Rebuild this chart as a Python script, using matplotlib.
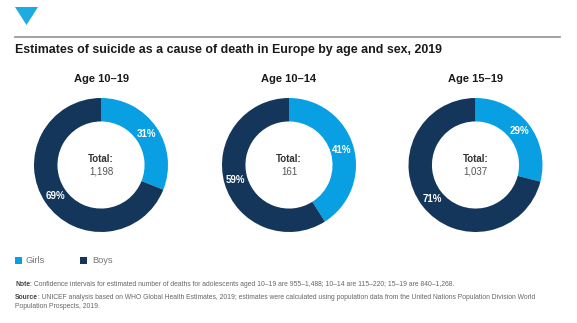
import matplotlib
matplotlib.use("Agg")
import matplotlib.pyplot as plt
from matplotlib.patches import Polygon
from matplotlib.lines import Line2D
import numpy as np

plt.rcParams['font.family'] = ['Liberation Sans', 'DejaVu Sans']

# Data
age_groups = ["Age 10\u201319", "Age 10\u201314", "Age 15\u201319"]
girls_pct = [31, 41, 29]
boys_pct = [69, 59, 71]
totals = ["1,198", "161", "1,037"]
series_names = ["Girls", "Boys"]

title = "Estimates of suicide as a cause of death in Europe by age and sex, 2019"
note_text = (": Confidence intervals for estimated number of deaths for adolescents aged 10\u201319 "
             "are 955\u20131,488; 10\u201314 are 115\u2013220; 15\u201319 are 840\u20131,268.")
source_lines = [": UNICEF analysis based on WHO Global Health Estimates, 2019; estimates were calculated "
                "using population data from the United Nations Population Division World",
                "Population Prospects, 2019."]

GIRLS = "#08A0E2"
BOYS = "#13365A"
W, H = 577, 323

fig = plt.figure(figsize=(W / 100, H / 100), dpi=100)
fig.patch.set_facecolor("white")


def fx(x):
    return x / W


def fy(y):
    return 1 - y / H


# Header triangle and rule
fig.patches.append(Polygon([(fx(15), fy(7)), (fx(38), fy(7)), (fx(26.5), fy(25))],
                           closed=True, transform=fig.transFigure, facecolor="#1CABE2",
                           edgecolor="none"))
fig.lines.append(Line2D([fx(15), fx(560)], [fy(36.5), fy(36.5)], transform=fig.transFigure,
                        color="#9a9a9a", linewidth=1.3))

fig.text(fx(15), fy(50), title, fontsize=8.9, fontweight="bold", color="#1a1a1a",
         ha="left", va="center")

centers_x = [101, 289, 475.5]
cy = 165
r = 67
ring = 0.35

for i, cx in enumerate(centers_x):
    ax = fig.add_axes([fx(cx - r), fy(cy + r), (2 * r) / W, (2 * r) / H])
    vals = [girls_pct[i], boys_pct[i]]
    wedges, _ = ax.pie(vals, colors=[GIRLS, BOYS], startangle=90, counterclock=False,
                       radius=1, wedgeprops=dict(width=ring, edgecolor="none"))
    ax.set_xlim(-1, 1)
    ax.set_ylim(-1, 1)
    ax.set_aspect("equal")
    ax.axis("off")
    for w, v in zip(wedges, vals):
        ang = np.deg2rad((w.theta1 + w.theta2) / 2)
        rr = 1 - ring / 2
        ax.text(rr * np.cos(ang), rr * np.sin(ang), f"{v}%", color="white", fontsize=7,
                fontweight="bold", ha="center", va="center")
    ax.text(0, 0.09, "Total:", fontsize=7, fontweight="bold", color="#333333",
            ha="center", va="center")
    ax.text(0, -0.1, totals[i], fontsize=7, color="#555555", ha="center", va="center")
    fig.text(fx(cx), fy(79), age_groups[i], fontsize=8, fontweight="bold", color="#1a1a1a",
             ha="center", va="center")

# Legend
for (lx, tx, name, col) in [(15, 26, series_names[0], GIRLS), (80, 92, series_names[1], BOYS)]:
    fig.patches.append(plt.Rectangle((fx(lx), fy(264)), 7 / W, 7 / H, transform=fig.transFigure,
                                     facecolor=col, edgecolor="none"))
    fig.text(fx(tx), fy(260.5), name, fontsize=6.7, color="#777777", ha="left", va="center")

# Note and source
fig.canvas.draw()
renderer = fig.canvas.get_renderer()


def labelled_line(x, y, label, rest):
    t = fig.text(fx(x), fy(y), label, fontsize=4.9, fontweight="bold", color="#444444",
                 ha="left", va="center")
    bb = t.get_window_extent(renderer)
    fig.text(bb.x1 / W, fy(y), rest, fontsize=4.9, color="#666666", ha="left", va="center")


labelled_line(15, 285, "Note", note_text)
labelled_line(15, 297.5, "Source", source_lines[0])
fig.text(fx(15), fy(306), source_lines[1], fontsize=4.9, color="#666666", ha="left", va="center")

fig.savefig("out.png", dpi=100, facecolor="white")
